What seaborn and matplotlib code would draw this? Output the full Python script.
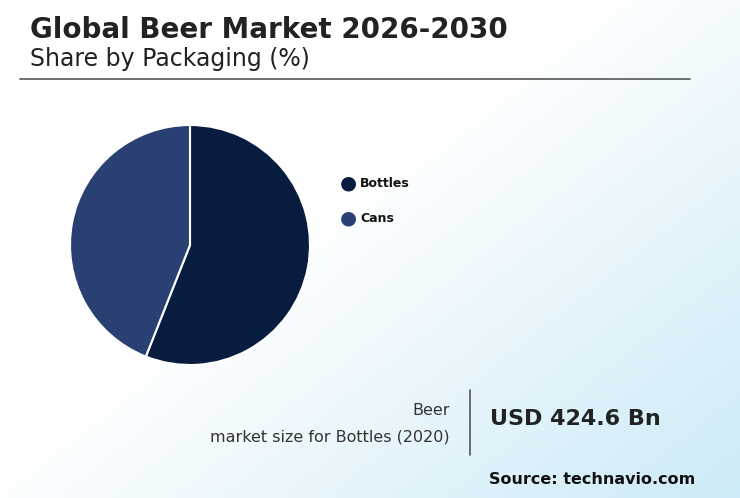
import numpy as np
import matplotlib
matplotlib.use('Agg')
import matplotlib.pyplot as plt
import seaborn as sns

sns.set_theme(style='white')
plt.rcParams['font.family'] = ['DejaVu Sans']

categories = ['Bottles', 'Cans']
shares = [56, 44]
colors = ['#081c40', '#2b4072']

W, H = 740, 498
fig = plt.figure(figsize=(W / 100, H / 100), dpi=100)

# background gradient (white top-left to light blue bottom-right)
bg = fig.add_axes([0, 0, 1, 1], zorder=-10)
xx, yy = np.meshgrid(np.linspace(0, 1, 200), np.linspace(0, 1, 200))
t = np.clip((xx * 0.7 + yy * 0.6) - 0.55, 0, 1) / 0.75
t = np.clip(t, 0, 1)
c0 = np.array([1.0, 1.0, 1.0])
c1 = np.array([0.80, 0.92, 0.97])
img = c0[None, None, :] * (1 - t[..., None]) + c1[None, None, :] * t[..., None]
bg.imshow(img, extent=[0, 1, 0, 1], aspect='auto', origin='upper')
bg.axis('off')

fig.text(30 / W, 1 - 30 / H, 'Global Beer Market 2026-2030', fontsize=20,
         fontweight='bold', color='#222222', va='center')
fig.text(30 / W, 1 - 59 / H, 'Share by Packaging (%)', fontsize=17,
         color='#222222', va='center')
fig.add_artist(plt.Line2D([20 / W, 690 / W], [1 - 79 / H, 1 - 79 / H],
                          color='#555555', lw=1.2))

# pie
r = 120
ax = fig.add_axes([(190 - r) / W, 1 - (245 + r) / H, 2 * r / W, 2 * r / H])
ax.pie(shares, colors=colors, startangle=90, counterclock=False,
       wedgeprops=dict(edgecolor='white', linewidth=1.5))
ax.set_xlim(-1, 1)
ax.set_ylim(-1, 1)
ax.set_aspect('auto')
ax.axis('off')

# legend
for i, (cat, col) in enumerate(zip(categories, colors)):
    y = 1 - (183 + 35 * i) / H
    fig.text(348 / W, y, '\u25CF', color=col, fontsize=14, ha='center', va='center')
    fig.text(360 / W, y, cat, fontsize=9, fontweight='bold', color='#111111', va='center')

fig.text(450 / W, 1 - 410 / H, 'Beer', fontsize=11.5, ha='right', va='center', color='#333333')
fig.text(450 / W, 1 - 437 / H, 'market size for Bottles (2020)', fontsize=11.5,
         ha='right', va='center', color='#333333')
fig.add_artist(plt.Line2D([470 / W, 470 / W], [1 - 390 / H, 1 - 455 / H],
                          color='#555555', lw=1.2))
fig.text(490 / W, 1 - 419 / H, 'USD 424.6 Bn', fontsize=16, fontweight='bold',
         va='center', color='#222222')
fig.text(695 / W, 1 - 479 / H, 'Source: technavio.com', fontsize=11.5, fontweight='bold',
         ha='right', va='center', color='#111111')

fig.savefig('out.png', dpi=100)
